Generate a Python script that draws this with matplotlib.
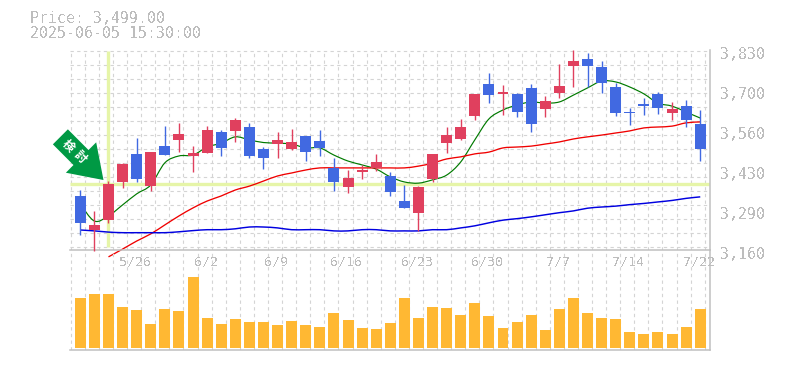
import matplotlib
matplotlib.use("Agg")
import matplotlib.pyplot as plt
from matplotlib.patches import Polygon, PathPatch
from matplotlib.path import Path
from matplotlib.transforms import Affine2D, blended_transform_factory
import numpy as np

opens = [3351,3237,3271,3398,3492,3384,3518,3539,3485,3495,3565,3569,3582,3508,3525,3508,3552,3535,3446,3381,3431,3445,3418,3334,3294,3408,3528,3542,3619,3726,3693,3693,3713,3642,3696,3786,3810,3783,3716,3632,3659,3693,3629,3652,3592]
closes = [3262,3254,3391,3458,3408,3498,3488,3559,3495,3572,3512,3606,3485,3478,3539,3532,3498,3512,3398,3411,3438,3465,3364,3311,3381,3492,3555,3582,3693,3689,3699,3632,3592,3669,3719,3803,3786,3730,3629,3629,3652,3646,3642,3606,3508]
highs = [3371,3301,3400,3462,3545,3498,3585,3596,3518,3585,3572,3612,3596,3515,3565,3575,3552,3572,3478,3438,3455,3492,3431,3388,3384,3492,3582,3609,3693,3763,3723,3696,3726,3686,3793,3840,3830,3803,3730,3646,3679,3699,3666,3673,3639]
lows = [3221,3168,3262,3378,3398,3368,3488,3498,3431,3495,3485,3532,3478,3441,3478,3505,3468,3485,3368,3361,3408,3435,3351,3311,3235,3398,3495,3539,3606,3662,3622,3616,3565,3616,3679,3716,3716,3696,3619,3589,3622,3626,3606,3582,3468]
ma_short = [3324,3267,3284,3321,3358,3388,3462,3485,3488,3515,3528,3549,3539,3530,3528,3525,3512,3512,3488,3468,3455,3441,3415,3398,3394,3405,3421,3465,3539,3609,3639,3656,3666,3662,3666,3689,3713,3736,3733,3716,3693,3662,3652,3632,3612]
ma_mid = [3147,3173,3200,3224,3254,3284,3311,3334,3351,3371,3384,3401,3418,3428,3438,3445,3445,3445,3445,3445,3445,3445,3451,3461,3475,3482,3492,3498,3512,3515,3518,3525,3532,3542,3549,3555,3562,3569,3579,3582,3585,3596,3599]
ma_long = [3237,3234,3230,3228,3228,3228,3228,3231,3235,3238,3238,3241,3247,3247,3244,3238,3238,3238,3234,3234,3238,3238,3234,3234,3234,3238,3238,3244,3251,3261,3270,3275,3281,3288,3295,3301,3310,3314,3317,3322,3326,3331,3336,3343,3348]
volumes = [50,54,54,41,38,24,39,37,71,30,24,29,26,26,23,27,23,21,35,28,20,19,25,50,30,41,40,33,45,32,20,26,33,18,39,50,35,30,29,16,14,16,14,21,39]
date_idx = [4,9,14,19,24,29,34,39,44]
date_labels = ["5/26","6/2","6/9","6/16","6/23","6/30","7/7","7/14","7/22"]
price_ticks = [3830,3700,3560,3430,3290,3160]
price_tick_pos = [3830,3696,3562,3428,3294,3160]
header = ["Price: 3,499.00","2025-06-05 15:30:00"]
signal_idx = 2
signal_price = 3390
signal_text = "検討"

W, H = 785, 370
fig = plt.figure(figsize=(W/100, H/100), dpi=100, facecolor="white")
mono = "DejaVu Sans Mono"
TXT = "#bdbdbd"; LINE = "#c0c0c0"; GRID = "#d4d4d4"
UP = "#e0405e"; DOWN = "#4169e1"; VOL = "#ffb833"; CROSS = "#e6f5a8"

def box(x0, y0, x1, y1):
    return [x0/W, 1-y1/H, (x1-x0)/W, (y1-y0)/H]

def smooth(a, xs, ys, color, lw, clip=True):
    # Catmull-Rom curve through the series' own points
    xs = np.asarray(xs, float); ys = np.asarray(ys, float)
    verts = [(xs[0], ys[0])]; codes = [Path.MOVETO]
    for i in range(len(xs)-1):
        p0 = max(i-1, 0); p3 = min(i+2, len(xs)-1)
        c1 = (xs[i]+(xs[i+1]-xs[p0])/6, ys[i]+(ys[i+1]-ys[p0])/6)
        c2 = (xs[i+1]-(xs[p3]-xs[i])/6, ys[i+1]-(ys[p3]-ys[i])/6)
        verts += [c1, c2, (xs[i+1], ys[i+1])]
        codes += [Path.CURVE4]*3
    a.add_patch(PathPatch(Path(verts, codes), fill=False, edgecolor=color, lw=lw, zorder=2, clip_on=clip))

ax = fig.add_axes(box(70, 50, 710, 250))
vx = fig.add_axes(box(70, 250, 710, 350))
x = np.arange(len(opens))
step = 14.09
xlim = ((70-80.3)/step, (710-80.3)/step)
for a in (ax, vx):
    a.set_xlim(*xlim)
    a.set_xticks(np.arange(46)-0.68)
    a.tick_params(length=0, labelbottom=False, labelleft=False)
    a.grid(True, axis="x", color=GRID, lw=0.8, ls=(0, (3, 3)), zorder=0)
    a.set_axisbelow(True)
    a.patch.set_alpha(0)
    a.spines["top"].set_visible(False)
    a.spines["left"].set_visible(False)
    a.spines["right"].set_color(LINE); a.spines["right"].set_linewidth(1.1)
    a.spines["bottom"].set_color(LINE); a.spines["bottom"].set_linewidth(1.1)

ax.set_ylim(3170, 3840)
ax.set_yticks(3837.7 - 46.9*np.arange(15))
ax.grid(True, axis="y", color=GRID, lw=0.8, ls=(0, (3, 3)), zorder=0)
vx.set_ylim(-2, 98)
vx.set_yticks([])

# crosshair
ax.plot([xlim[0], xlim[1]], [signal_price]*2, color=CROSS, lw=2.4, zorder=1, solid_capstyle="butt")
ax.plot([signal_idx]*2, [3180, 3838], color=CROSS, lw=2.4, zorder=1, solid_capstyle="butt")

# moving averages
smooth(ax, x, ma_short, "#007a00", 0.85)
smooth(ax, x[2:], ma_mid, "#f00000", 0.95, clip=False)
smooth(ax, x, ma_long, "#0000e0", 1.05)

# candles
for i, (o, c, h, l) in enumerate(zip(opens, closes, highs, lows)):
    col = UP if c >= o else DOWN
    ax.vlines(i, l, h, color=col, lw=1.0, zorder=3, clip_on=False)
    ax.bar(i, abs(c-o), bottom=min(o, c), width=0.78, color=col, zorder=4, linewidth=0)

vx.bar(x, volumes, width=0.78, color=VOL, zorder=3, linewidth=0)

# arrow marker, offsets in pixels from the signal point
fig.canvas.draw()
px, py = ax.transData.transform((signal_idx, signal_price))
tr = Affine2D().translate(px, py)
shape = [(-55.6, 40), (-40.6, 55), (-20, 34.3), (-12.3, 42), (-5, 4.3), (-42.6, 11.6), (-35, 19.3)]
fig.add_artist(Polygon(shape, closed=True, transform=tr, facecolor="#009944", edgecolor="none", zorder=6))
for ch, (dx, dy) in zip(signal_text, [(-40, 38.6), (-28.3, 27.6)]):
    t = fig.text(px+dx, py+dy, ch, transform=None, color="white", fontsize=8.5, fontweight="bold", rotation=-45,
             family=["Noto Sans CJK JP", "DejaVu Sans"], ha="center", va="center", rotation_mode="anchor", zorder=7)

# labels
tr_y = blended_transform_factory(ax.transAxes, ax.transData)
for lab, pos in zip(price_ticks, price_tick_pos):
    t = ax.annotate(f"{lab:,}", (1.0156, pos), xycoords=tr_y, xytext=(0, -4), textcoords="offset points",
                    family=mono, fontsize=10.7, color=TXT, ha="left", va="baseline", annotation_clip=False)
    t.set_antialiased(False)
tr_x = blended_transform_factory(vx.transData, vx.transAxes)
for i, lab in zip(date_idx, date_labels):
    t = vx.annotate(lab, (i, 1.0), xycoords=tr_x, xytext=(-1, -11), textcoords="offset points",
                    family=["Liberation Sans Narrow", mono], fontsize=9.5, color=TXT,
                    ha="center", va="baseline", annotation_clip=False, zorder=5)
    t.set_antialiased(False)
for s, y in zip(header, [23, 38]):
    t = fig.text(30/W, 1-y/H, s, family=mono, fontsize=10.7, color=TXT, ha="left", va="baseline")
    t.set_antialiased(False)

fig.savefig("out.png", dpi=100, facecolor="white")
